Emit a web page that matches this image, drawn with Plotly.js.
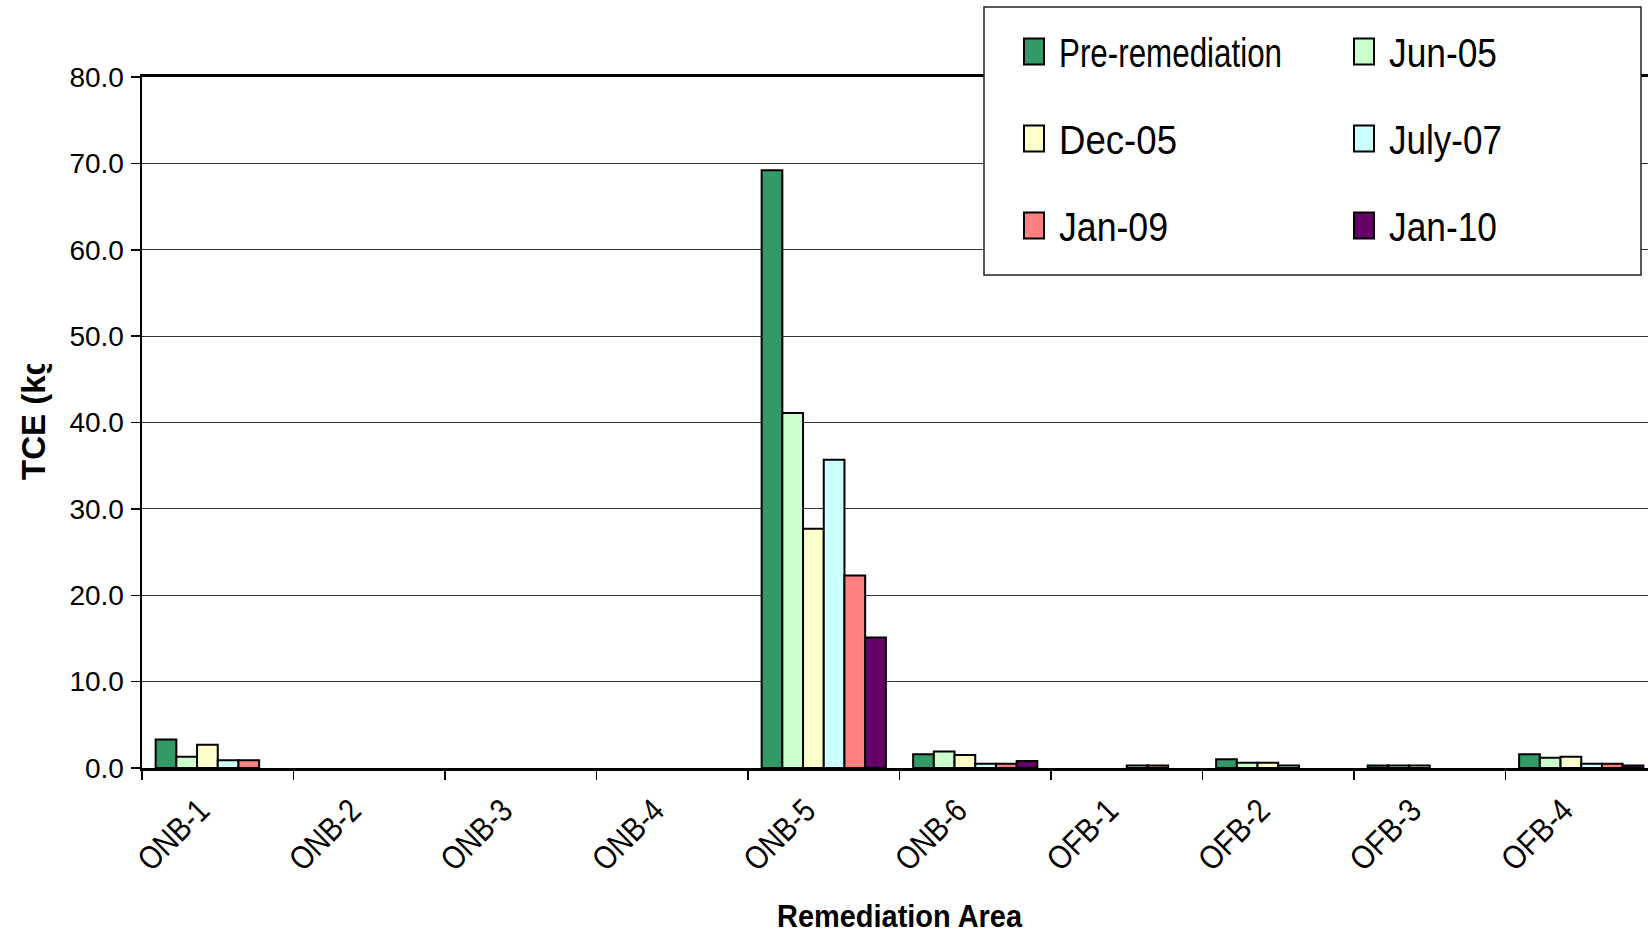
<!DOCTYPE html>
<html>
<head>
<meta charset="utf-8">
<script src="https://cdn.plot.ly/plotly-3.0.1.min.js"></script>
<style>
  html, body { margin: 0; padding: 0; overflow: hidden; background: #fff; }
  #wrap { position: relative; width: 1648px; height: 934px; overflow: hidden; }
  #chart { position: absolute; left: 0; top: 0; width: 1670px; height: 934px; }
  /* the axis-title box is too short for its text, so the end of the label is cut off */
  #ytitle-clip { position: absolute; left: 0; top: 0; width: 62px; height: 364px; background: #fff; z-index: 10; }
</style>
</head>
<body>
<div id="wrap">
  <div id="chart"></div>
  <div id="ytitle-clip"></div>
</div>
<script>
// Remediation areas along the x axis
const areas = ['ONB-1', 'ONB-2', 'ONB-3', 'ONB-4', 'ONB-5', 'ONB-6', 'OFB-1', 'OFB-2', 'OFB-3', 'OFB-4'];

// TCE mass (kg) per area for each sampling event (null = no result)
const preRemediation = [3.3, null, null, null, 69.2, 1.6, null, 1.0, 0.3, 1.6];
const jun05          = [1.3, null, null, null, 41.1, 1.9, null, 0.6, 0.3, 1.2];
const dec05          = [2.7, null, null, null, 27.7, 1.5, null, 0.6, 0.3, 1.3];
const july07         = [0.9, null, null, null, 35.7, 0.5, 0.3, 0.3, null, 0.5];
const jan09          = [0.9, null, null, null, 22.3, 0.5, 0.3, null, null, 0.5];
const jan10          = [null, null, null, null, 15.1, 0.8, null, null, null, 0.3];

const seriesNames = ['Pre-remediation', 'Jun-05', 'Dec-05', 'July-07', 'Jan-09', 'Jan-10'];
const seriesValues = [preRemediation, jun05, dec05, july07, jan09, jan10];
const seriesColors = ['#339966', '#CCFFCC', '#FFFFCC', '#CCFFFF', '#FF8080', '#660066'];
// two legend columns: left column in "legend", right column in "legend2"
const seriesLegend = ['legend', 'legend2', 'legend', 'legend2', 'legend', 'legend2'];

const font = 'Liberation Sans, Arial, sans-serif';

// set widths (px) for the condensed lettering of the legend, ticks and x title
const legendTextWidth = {
  'Pre-remediation': 223, 'Jun-05': 108, 'Dec-05': 118,
  'July-07': 113, 'Jan-09': 109, 'Jan-10': 108
};
const tickTextWidth = 85;
const xTitleWidth = 245;

const traces = seriesNames.map((name, i) => ({
  type: 'bar',
  name: name,
  x: areas,
  y: seriesValues[i],
  legend: seriesLegend[i],
  legendgroup: name,
  marker: { color: seriesColors[i], line: { color: '#000', width: 2 } },
  hoverinfo: 'x+y+name'
}));

// plot area geometry in px, used to place the legend block in paper units
const W = 1670, H = 934, ML = 142, MR = 13, MT = 77, MB = 166;
const PW = W - ML - MR, PH = H - MT - MB;
const px = v => (v - ML) / PW;
const py = v => (H - MB - v) / PH;

const legendCommon = {
  orientation: 'v',
  bgcolor: 'rgba(0,0,0,0)',
  borderwidth: 0,
  font: { family: font, size: 40, color: '#000' },
  tracegroupgap: 32,
  xanchor: 'left',
  yanchor: 'top',
  y: py(19)
};

const layout = {
  width: W,
  height: H,
  margin: { l: ML, r: MR, t: MT, b: MB, pad: 0 },
  paper_bgcolor: '#fff',
  plot_bgcolor: '#fff',
  barmode: 'group',
  bargap: 0.18,
  bargroupgap: 0,
  showlegend: true,
  legend: Object.assign({}, legendCommon, { x: px(1014) }),
  legend2: Object.assign({}, legendCommon, { x: px(1344) }),
  xaxis: {
    type: 'category',
    range: [-0.5, 9.5],
    tickson: 'boundaries',
    ticks: 'outside',
    ticklen: 9,
    tickwidth: 1.5,
    tickcolor: '#000',
    tickangle: -45,
    ticklabelshift: -18,
    ticklabelstandoff: 7,
    tickfont: { family: font, size: 33, color: '#000' },
    showline: true,
    linecolor: '#000',
    linewidth: 3,
    mirror: true,
    showgrid: false,
    zeroline: false,
    title: {
      text: 'Remediation Area',
      font: { family: font, size: 32, color: '#000', weight: 'bold' },
      standoff: 30
    }
  },
  yaxis: {
    range: [0, 80],
    dtick: 10,
    tickformat: '.1f',
    ticks: 'outside',
    ticklen: 9,
    tickwidth: 1.5,
    tickcolor: '#000',
    ticklabelstandoff: 1,
    tickfont: { family: font, size: 28, color: '#000' },
    showline: true,
    linecolor: '#000',
    linewidth: 2.5,
    showgrid: true,
    gridcolor: '#333',
    gridwidth: 1,
    zeroline: false
  },
  annotations: [
    {
      // y axis title
      text: 'TCE (kg)', textangle: -90, showarrow: false,
      xref: 'paper', yref: 'paper', x: px(33), y: py(412),
      xanchor: 'center', yanchor: 'middle',
      font: { family: font, size: 33, color: '#000', weight: 'bold' }
    }
  ],
  shapes: [
    {
      // white legend panel over the plot area
      type: 'rect', xref: 'paper', yref: 'paper', layer: 'above',
      x0: px(984), x1: px(1641), y0: py(275), y1: py(7),
      fillcolor: '#fff', line: { color: '#222', width: 1.5 }
    }
  ]
};

function condense(el, width) {
  if (el.getAttribute('textLength') != width) el.setAttribute('textLength', width);
  if (el.getAttribute('lengthAdjust') !== 'spacingAndGlyphs') el.setAttribute('lengthAdjust', 'spacingAndGlyphs');
}

// larger swatches and condensed lettering, applied after drawing
function finish(gd) {
  gd.querySelectorAll('.legendpoints path').forEach(p => {
    if (p.getAttribute('d') !== 'M10,13H-10V-13H10Z') p.setAttribute('d', 'M10,13H-10V-13H10Z');
  });
  gd.querySelectorAll('text.legendtext, text.legend2text').forEach(t => {
    const w = legendTextWidth[t.textContent.trim()];
    if (w) condense(t, w);
    if (t.getAttribute('x') !== '45') t.setAttribute('x', 45);
  });
  gd.querySelectorAll('.xtick text').forEach(t => condense(t, tickTextWidth));
  gd.querySelectorAll('.g-xtitle text').forEach(t => condense(t, xTitleWidth));
}

const chart = document.getElementById('chart');
Plotly.newPlot(chart, traces, layout, { displayModeBar: false, staticPlot: true }).then(gd => {
  finish(gd);
  new MutationObserver(() => finish(gd)).observe(gd, { subtree: true, childList: true, attributes: true });
});
</script>
</body>
</html>
